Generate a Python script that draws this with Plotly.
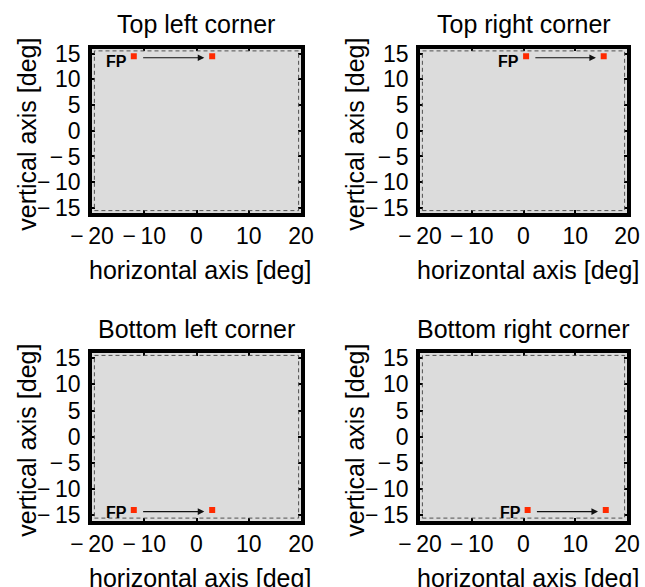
import plotly.graph_objects as go

W, H = 645, 587

panel_titles = ["Top left corner", "Top right corner", "Bottom left corner", "Bottom right corner"]
fp_x = [-12, 0.5, -12, 0.8]
fp_y = [14.5, 14.5, -14, -14]
target_x = [3, 15.5, 3, 15.9]
target_y = [14.5, 14.5, -14, -14]
label_x = [-15.3, -2.9, -15.3, -2.6]
label_y = [13.4, 13.4, -14.5, -14.5]

x_ticks = [-20, -10, 0, 10, 20]
x_ticktext = ["\u2212\u200920", "\u2212\u200910", "0", "10", "20"]
y_ticks = [-15, -10, -5, 0, 5, 10, 15]
y_ticktext = ["\u2212\u200915", "\u2212\u200910", "\u2212\u20095", "0", "5", "10", "15"]
x_range = [-20, 20]
y_range = [-16, 16]

# panel boxes in pixels: (left, right, top, bottom)
boxes = [(92, 301, 48.5, 213), (420, 627, 48.5, 213),
         (92, 301, 353, 520.5), (420, 627, 353, 520.5)]

def px(x):
    return x / W

def py(y):
    return 1 - y / H

FONT = "Liberation Sans, Arial, Helvetica, sans-serif"

fig = go.Figure()
layout = dict(width=W, height=H, margin=dict(l=0, r=0, t=0, b=0, autoexpand=False),
              paper_bgcolor="white", showlegend=False, template="none",
              font=dict(family=FONT, color="black"))
annotations = []
shapes = []

for i in range(4):
    l, r, t, b = boxes[i]
    xa = "xaxis" if i == 0 else f"xaxis{i+1}"
    ya = "yaxis" if i == 0 else f"yaxis{i+1}"
    xr = "x" if i == 0 else f"x{i+1}"
    yr = "y" if i == 0 else f"y{i+1}"
    common = dict(showgrid=False, zeroline=False, showline=True, linewidth=3.5,
                  linecolor="black", mirror="ticks", ticks="inside", ticklen=3,
                  tickwidth=2, tickcolor="black", fixedrange=True, automargin=False,
                  tickfont=dict(size=23, family=FONT, color="black"))
    layout[xa] = dict(domain=[px(l), px(r)], range=x_range, anchor=yr,
                      tickvals=x_ticks, ticktext=x_ticktext, ticklabelstandoff=0,
                      tickangle=0, **common)
    layout[ya] = dict(domain=[py(b), py(t)], range=y_range, anchor=xr,
                      tickvals=y_ticks, ticktext=y_ticktext, ticklabelstandoff=3, **common)

    # background of the plot area
    shapes.append(dict(type="rect", xref=f"{xr} domain", yref=f"{yr} domain",
                       x0=0, x1=1, y0=0, y1=1, fillcolor="#dcdcdc",
                       line=dict(width=0), layer="below"))
    # dashed inner frame
    dx = 2.4 / (r - l)
    dy = 2.4 / (b - t)
    shapes.append(dict(type="rect", xref=f"{xr} domain", yref=f"{yr} domain",
                       x0=dx, x1=1 - dx, y0=dy, y1=1 - dy,
                       line=dict(color="#505050", width=1, dash="4px,3px"),
                       layer="above"))

    fig.add_trace(go.Scatter(x=[fp_x[i], target_x[i]], y=[fp_y[i], target_y[i]],
                             mode="markers", xaxis=xr, yaxis=yr,
                             marker=dict(symbol="square", size=6, color="#ff2a00",
                                         line=dict(width=0)),
                             hoverinfo="skip"))
    # arrow from fixation point toward target
    annotations.append(dict(x=target_x[i] - 1.5, y=fp_y[i] - 0.3, xref=xr, yref=yr,
                            ax=fp_x[i] + 1.5, ay=fp_y[i] - 0.3, axref=xr, ayref=yr,
                            showarrow=True, arrowhead=2, arrowsize=1.2, arrowwidth=1.1,
                            arrowcolor="#111111", text=""))
    annotations.append(dict(x=label_x[i], y=label_y[i], xref=xr, yref=yr,
                            text="<b>FP</b>", showarrow=False,
                            xanchor="center", yanchor="middle",
                            font=dict(size=16, family=FONT, color="black")))
    # panel title
    annotations.append(dict(x=px((l + r) / 2), y=py(t - 24), xref="paper", yref="paper",
                            text=panel_titles[i], showarrow=False,
                            xanchor="center", yanchor="middle",
                            font=dict(size=25, family=FONT, color="black")))
    # axis titles
    annotations.append(dict(x=px((l + r) / 2 + 4), y=py(b + 57), xref="paper", yref="paper",
                            text="horizontal axis [deg]", showarrow=False,
                            xanchor="center", yanchor="middle",
                            font=dict(size=25, family=FONT, color="black")))
    annotations.append(dict(x=px(l - 65), y=py((t + b) / 2 + 4), xref="paper", yref="paper",
                            text="vertical axis [deg]", showarrow=False, textangle=-90,
                            xanchor="center", yanchor="middle",
                            font=dict(size=25, family=FONT, color="black")))

layout["annotations"] = annotations
layout["shapes"] = shapes
layout["plot_bgcolor"] = "#dcdcdc"
fig.update_layout(**layout)
fig.write_html("out.html", config={"displayModeBar": False},
               post_script="document.body.style.margin='0';document.body.style.padding='0';")
